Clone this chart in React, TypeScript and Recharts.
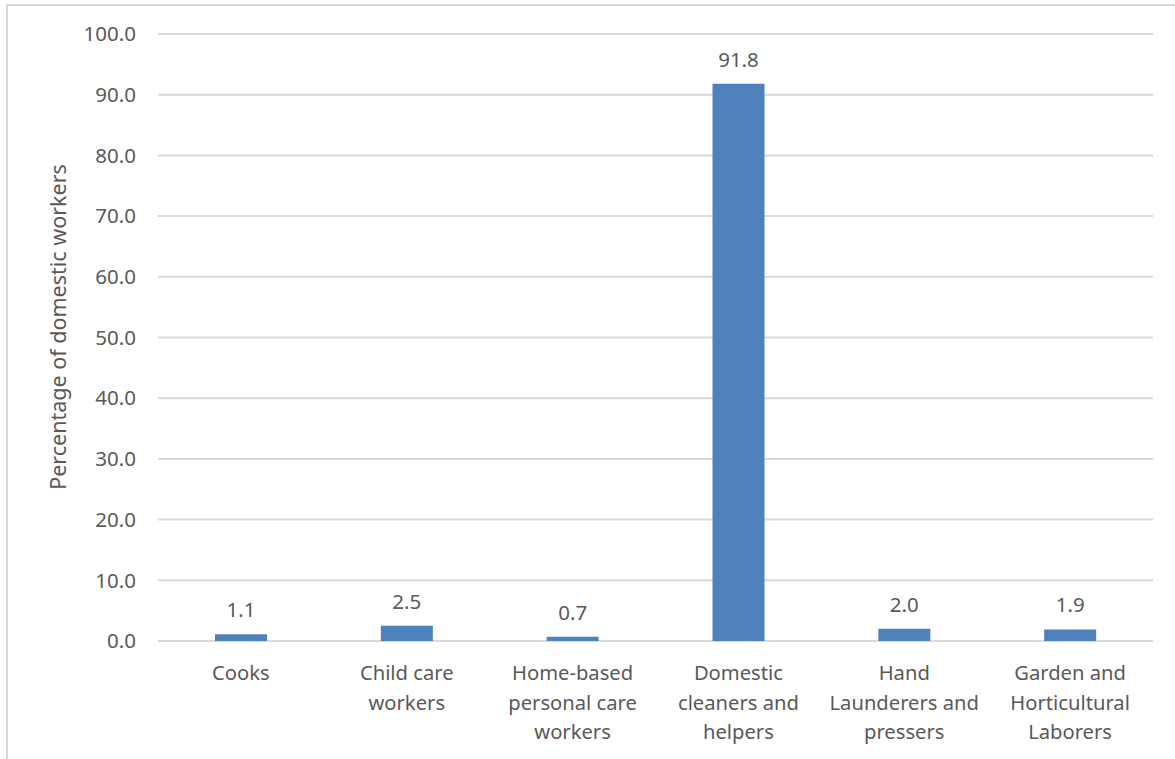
import React from "react";
import { BarChart, Bar, XAxis, YAxis, CartesianGrid, LabelList, Label } from "recharts";

// Share of domestic workers by occupation (%)
const occupations = [
  "Cooks",
  "Child care workers",
  "Home-based personal care workers",
  "Domestic cleaners and helpers",
  "Hand Launderers and pressers",
  "Garden and Horticultural Laborers",
];

// How each category name wraps under the axis
const occupationLines = [
  ["Cooks"],
  ["Child care", "workers"],
  ["Home-based", "personal care", "workers"],
  ["Domestic", "cleaners and", "helpers"],
  ["Hand", "Launderers and", "pressers"],
  ["Garden and", "Horticultural", "Laborers"],
];

const shares = [1.1, 2.5, 0.7, 91.8, 2.0, 1.9];

const yTicks = [0, 10, 20, 30, 40, 50, 60, 70, 80, 90, 100];

const data = occupations.map((name, i) => ({ name, lines: occupationLines[i], share: shares[i] }));

const FONT = "'Noto Sans', 'Open Sans', sans-serif";
const TEXT = "#595959";
const GRID = "#D9D9D9";
const BAR = "#4F81BD";

const CategoryTick = (props: any) => {
  const { x, payload } = props;
  const idx = occupations.indexOf(payload.value);
  const lines = idx >= 0 ? occupationLines[idx] : [String(payload.value)];
  return (
    <text x={x} y={680} textAnchor="middle" fill={TEXT} fontSize={20.2} fontFamily={FONT}>
      {lines.map((ln, i) => (
        <tspan key={i} x={x} dy={i === 0 ? 0 : 29.5}>
          {ln}
        </tspan>
      ))}
    </text>
  );
};

const ValueLabel = (props: any) => {
  const { x, y, width, value } = props;
  return (
    <text x={x + width / 2} y={y - 17} textAnchor="middle" fill={TEXT} fontSize={20.5} fontFamily={FONT}>
      {Number(value).toFixed(1)}
    </text>
  );
};

const AxisTitle = () => (
  <text
    x={66}
    y={327}
    transform="rotate(-90 66 327)"
    textAnchor="middle"
    fill={TEXT}
    fontSize={21.5}
    fontFamily={FONT}
  >
    Percentage of domestic workers
  </text>
);

export default function App() {
  return (
    <div style={{ position: "absolute", left: 0, top: 0, width: 1175, height: 759, background: "#fff" }}>
      <div
        style={{
          position: "absolute",
          left: 6,
          top: 4,
          right: 0,
          bottom: 0,
          borderTop: `2px solid ${GRID}`,
          borderLeft: `2px solid ${GRID}`,
        }}
      />
      <div style={{ position: "absolute", left: 0, top: 0 }}>
        <BarChart
          width={1175}
          height={759}
          data={data}
          margin={{ top: 34, right: 22, left: 0, bottom: 0 }}
          barSize={52}
        >
          <CartesianGrid vertical={false} stroke={GRID} strokeWidth={2} />
          <XAxis
            dataKey="name"
            height={118}
            axisLine={false}
            tickLine={false}
            interval={0}
            tick={<CategoryTick />}
          />
          <YAxis
            width={158}
            domain={[0, 100]}
            ticks={yTicks}
            axisLine={false}
            tickLine={false}
            tickSize={0}
            tickMargin={22}
            tickFormatter={(v: number) => v.toFixed(1)}
            tick={{ fill: TEXT, fontSize: 20.5, fontFamily: FONT }}
          >
            <Label content={<AxisTitle />} />
          </YAxis>
          <Bar dataKey="share" fill={BAR} isAnimationActive={false}>
            <LabelList dataKey="share" content={<ValueLabel />} />
          </Bar>
        </BarChart>
      </div>
    </div>
  );
}
